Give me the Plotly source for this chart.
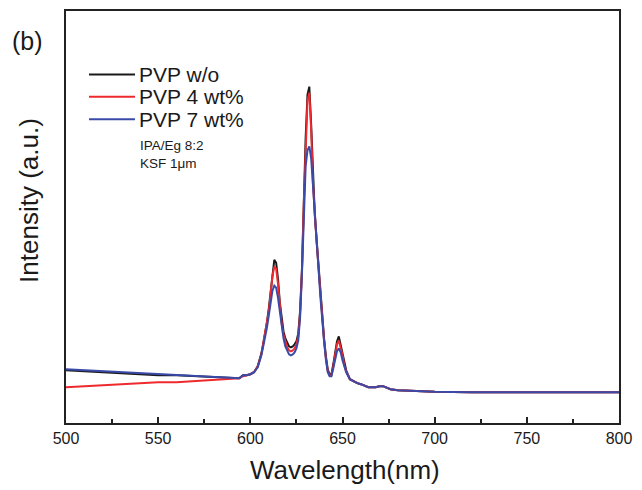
import plotly.graph_objects as go

wavelength = [500, 510, 520, 530, 540, 550, 560, 570, 580, 590,
              594, 596, 598, 600, 602, 604, 606,
              607, 608, 609, 610, 611, 612, 613, 614, 615, 616,
              617, 618, 619, 620, 621, 622, 623, 624, 625, 626,
              627, 628, 629, 630, 631, 632, 633, 634, 635, 636,
              637, 638, 639, 640, 641, 642, 643, 644, 645, 646,
              647, 648, 649, 650, 651, 652,
              654, 656, 658, 660, 664, 668, 670, 672, 676, 680,
              690, 700, 720, 740, 760, 780, 800]

pvp_wo = [53, 52, 51, 50, 49, 48, 48, 47, 46, 45,
          45, 48, 48, 49, 51, 57, 70,
          80, 90, 101, 115, 133, 153, 164, 161, 145, 121,
          103, 92, 85, 80, 77, 76, 77, 79, 82, 90,
          113, 155, 223, 286, 330, 338, 300, 243, 208, 183,
          158, 130, 105, 85, 67, 54, 49, 49, 59, 71,
          82, 87, 79, 70, 60, 53,
          44, 42, 40, 39, 36, 36, 37, 37, 34, 33,
          32, 31.5, 31, 31, 31, 31, 31]

pvp_4 = [36, 37, 38, 39, 40, 41, 41, 42, 43, 44,
         45, 47, 48, 49, 51, 57, 69,
         79, 88, 99, 112, 130, 148, 157, 155, 140, 117,
         100, 89, 81, 76, 73, 72, 73, 75, 79, 87,
         110, 152, 220, 283, 324, 332, 295, 240, 206, 181,
         156, 128, 103, 83, 65, 52, 48, 48, 57, 68,
         79, 83, 76, 68, 58, 52,
         44, 42, 40, 39, 36, 36, 37, 37, 34, 33,
         32, 31.5, 31, 31, 31, 31, 31]

pvp_7 = [54, 53, 52, 51, 50, 49, 48, 47, 46, 45,
         45, 48, 48, 49, 51, 56, 68,
         77, 86, 96, 108, 122, 133, 138, 136, 126, 111,
         96, 85, 77, 72, 69, 68, 69, 71, 75, 83,
         106, 150, 212, 258, 274, 278, 266, 236, 204, 180,
         155, 127, 102, 82, 64, 51, 47, 47, 55, 64,
         72, 75, 71, 63, 56, 51,
         44, 42, 40, 39, 36, 36, 37, 37, 34, 33,
         32, 31.5, 31, 31, 31, 31, 31]

series_names = ["PVP w/o", "PVP 4 wt%", "PVP 7 wt%"]
series_colors = ["#1a1a1a", "#ee2a2e", "#3a4aa8"]
series_values = [pvp_wo, pvp_4, pvp_7]

note_lines = ["IPA/Eg 8:2", "KSF 1μm"]

x_ticks = [500, 550, 600, 650, 700, 750, 800]

FONT = "Arial, Liberation Sans, sans-serif"
AX = "#222222"
TXT = "#1a1a1a"

fig = go.Figure()
for name, color, vals in zip(series_names, series_colors, series_values):
    fig.add_trace(go.Scatter(x=wavelength, y=vals, mode="lines", name=name,
                             line=dict(color=color, width=2), showlegend=False))

# manual legend
leg_y = [0.846, 0.792, 0.737]
for name, color, yy in zip(series_names, series_colors, leg_y):
    fig.add_shape(type="line", xref="paper", yref="paper", x0=0.0416, x1=0.1248,
                  y0=yy, y1=yy, line=dict(color=color, width=2))
    fig.add_annotation(xref="paper", yref="paper", x=0.128, y=yy, text=name,
                       showarrow=False, xanchor="left", yanchor="middle",
                       font=dict(family=FONT, size=21, color=TXT))

fig.add_annotation(xref="paper", yref="paper", x=0.130, y=0.651,
                   text="<br>".join(note_lines), showarrow=False, align="left",
                   xanchor="left", yanchor="middle",
                   font=dict(family=FONT, size=13.5, color=TXT))

fig.add_annotation(xref="paper", yref="paper", x=-0.070, y=0.928, text="(b)",
                   showarrow=False, xanchor="center", yanchor="middle",
                   font=dict(family=FONT, size=25, color=TXT))

fig.add_annotation(xref="paper", yref="paper", x=-0.068, y=0.54,
                   text="Intensity (a.u.)", textangle=-90, showarrow=False,
                   xanchor="center", yanchor="middle",
                   font=dict(family=FONT, size=26, color=TXT))

fig.add_annotation(xref="paper", yref="paper", x=0.5045, y=-0.1135,
                   text="Wavelength(nm)", showarrow=False,
                   xanchor="center", yanchor="middle",
                   font=dict(family=FONT, size=26, color=TXT))

fig.update_xaxes(range=[500, 800], tickvals=x_ticks, ticktext=[str(t) for t in x_ticks],
                 ticks="inside", ticklen=6, tickwidth=2, tickcolor=AX,
                 minor=dict(ticks="inside", ticklen=4, tickwidth=1.5, tickcolor=AX, dtick=25, tick0=500, showgrid=False),
                 showline=True, linewidth=2, linecolor=AX, mirror=True,
                 showgrid=False, zeroline=False,
                 tickfont=dict(family=FONT, size=16, color=TXT))
fig.update_yaxes(range=[0, 414], showticklabels=False, ticks="",
                 showline=True, linewidth=2, linecolor=AX, mirror=True,
                 showgrid=False, zeroline=False)

# page body has an 8px margin, so the figure is sized/offset to compensate
fig.update_layout(width=634, height=482, plot_bgcolor="white", paper_bgcolor="white",
                  margin=dict(l=58, r=23, t=1, b=67), showlegend=False)

fig.write_html("out.html")
